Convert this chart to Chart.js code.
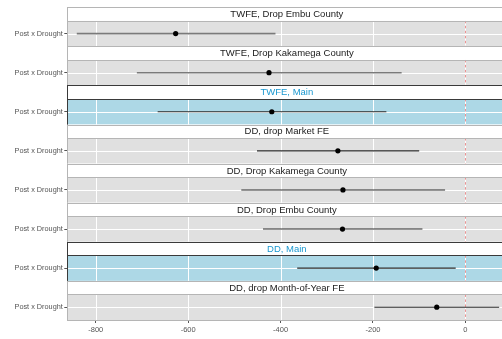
<!DOCTYPE html>
<html>
<head>
<meta charset="utf-8">
<script src="https://cdn.jsdelivr.net/npm/chart.js@4/dist/chart.umd.min.js"></script>
<style>
  html, body { margin: 0; padding: 0; background: #ffffff; overflow: hidden; }
  #wrap { width: 502px; height: 339px; overflow: hidden; }
  canvas { display: block; }
</style>
</head>
<body>
<div id="wrap"><canvas id="coefplot" width="509" height="339" style="width:509px;height:339px"></canvas></div>
<script>
// Facets, top to bottom
const facetTitles = [
  'TWFE, Drop Embu County',
  'TWFE, Drop Kakamega County',
  'TWFE, Main',
  'DD, drop Market FE',
  'DD, Drop Kakamega County',
  'DD, Drop Embu County',
  'DD, Main',
  'DD, drop Month-of-Year FE'
];
const rowLabel = 'Post x Drought';

// Point estimates and confidence bounds for each facet
const estimates = [-627, -425, -419, -276, -265, -266, -193, -62];
const ciLower   = [-841, -711, -666, -451, -485, -438, -364, -197];
const ciUpper   = [-411, -138, -171, -100, -44,  -93,  -21,   73];

// Horizontal axis ticks
const xTicks = [-800, -600, -400, -200, 0];
const xRange = [-861.5, 88.7];

// Layout of one facet: strip share of the facet height
const STRIP_SHARE = 13.5 / 39.1;
const rowY = i => i + STRIP_SHARE + (1 - STRIP_SHARE) / 2;
const isMain = t => /Main$/.test(t);
const FONT = '"Liberation Sans", Arial, Helvetica, sans-serif';

const intervalSets = facetTitles.map((t, i) => {
  const faded = t.startsWith('TWFE') && !isMain(t);
  return {
    type: 'line',
    label: t,
    data: [{ x: ciLower[i], y: rowY(i) }, { x: ciUpper[i], y: rowY(i) }],
    borderColor: faded ? '#7a7a7a' : '#2a2a2a',
    borderWidth: faded ? 1.6 : 1.1,
    pointRadius: 0,
    order: 2
  };
});

const pointSet = {
  type: 'scatter',
  label: 'estimate',
  data: estimates.map((v, i) => ({ x: v, y: rowY(i) })),
  pointRadius: 2.6,
  pointHoverRadius: 2.6,
  backgroundColor: '#000000',
  borderWidth: 0,
  order: 1
};

// Panel backgrounds, gridlines, zero reference line and facet strips
const facetPanels = {
  id: 'facetPanels',
  beforeDatasetsDraw(chart) {
    const { ctx, chartArea: a, scales: { x, y } } = chart;
    ctx.save();
    facetTitles.forEach((title, i) => {
      const main = isMain(title);
      const sTop = y.getPixelForValue(i);
      const sBot = y.getPixelForValue(i + STRIP_SHARE);
      const pBot = y.getPixelForValue(i + 1);
      const border = main ? '#3a3a3a' : '#b5b5b5';

      // panel
      ctx.fillStyle = main ? '#add8e6' : '#e0e0e0';
      ctx.fillRect(a.left, sBot, a.right - a.left, pBot - sBot);
      ctx.strokeStyle = '#ffffff';
      ctx.lineWidth = 1;
      xTicks.forEach(v => {
        const px = Math.round(x.getPixelForValue(v)) + 0.5;
        ctx.beginPath(); ctx.moveTo(px, sBot); ctx.lineTo(px, pBot); ctx.stroke();
      });
      const ry = Math.round(y.getPixelForValue(rowY(i))) + 0.5;
      ctx.beginPath(); ctx.moveTo(a.left, ry); ctx.lineTo(a.right, ry); ctx.stroke();

      // zero reference
      const zx = Math.round(x.getPixelForValue(0)) + 0.5;
      ctx.strokeStyle = 'rgba(228,110,110,0.75)';
      ctx.setLineDash([2.5, 2.5]);
      ctx.beginPath(); ctx.moveTo(zx, sBot); ctx.lineTo(zx, pBot); ctx.stroke();
      ctx.setLineDash([]);

      // strip
      ctx.fillStyle = '#ffffff';
      ctx.fillRect(a.left, sTop, a.right - a.left, sBot - sTop);
      ctx.strokeStyle = border;
      ctx.lineWidth = 1;
      ctx.strokeRect(Math.round(a.left) + 0.5, Math.round(sTop) + 0.5,
                     a.right - a.left, Math.round(pBot) - Math.round(sTop));
      ctx.beginPath();
      ctx.moveTo(a.left, Math.round(sBot) + 0.5);
      ctx.lineTo(a.right, Math.round(sBot) + 0.5);
      ctx.stroke();

      ctx.fillStyle = main ? '#1b98d0' : '#1a1a1a';
      ctx.font = '9.5px ' + FONT;
      ctx.textAlign = 'center';
      ctx.textBaseline = 'middle';
      ctx.fillText(title, (a.left + a.right) / 2, (sTop + sBot) / 2 + 0.5);
    });
    ctx.restore();
  }
};

new Chart(document.getElementById('coefplot'), {
  data: { datasets: [...intervalSets, pointSet] },
  options: {
    responsive: false,
    devicePixelRatio: 1,
    animation: false,
    events: [],
    layout: { padding: { top: 7.3, right: 0, left: 0, bottom: 0 } },
    plugins: { legend: { display: false }, tooltip: { enabled: false } },
    scales: {
      x: {
        type: 'linear',
        min: xRange[0],
        max: xRange[1],
        afterBuildTicks: s => { s.ticks = xTicks.map(v => ({ value: v })); },
        afterFit: s => { s.height = 19; },
        grid: { drawOnChartArea: false, drawTicks: true, tickLength: 3, tickColor: '#555555', lineWidth: 1 },
        border: { display: false },
        ticks: { color: '#555555', font: { family: FONT, size: 7.5 }, padding: 2, maxRotation: 0 }
      },
      y: {
        type: 'linear',
        min: 0,
        max: facetTitles.length,
        reverse: true,
        afterBuildTicks: s => { s.ticks = facetTitles.map((t, i) => ({ value: rowY(i) })); },
        afterFit: s => { s.width = 67.3; },
        grid: { drawOnChartArea: false, drawTicks: true, tickLength: 3, tickColor: '#555555', lineWidth: 1 },
        border: { display: false },
        ticks: { color: '#555555', font: { family: FONT, size: 7.3 }, padding: 1.5, callback: () => rowLabel }
      }
    }
  },
  plugins: [facetPanels]
});
</script>
</body>
</html>
